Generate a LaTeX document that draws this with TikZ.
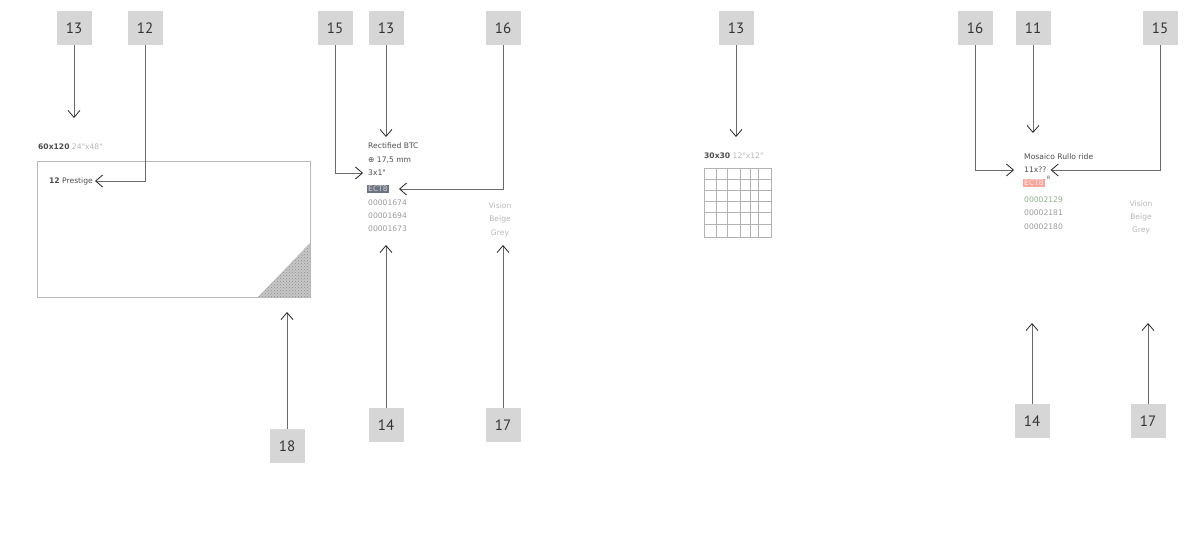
\documentclass[tikz,border=0pt]{standalone}
\usepackage{fontspec}
\setmainfont{PT Sans}
\newfontfamily\smallfont{DejaVu Sans}
\usetikzlibrary{arrows.meta,patterns}
\definecolor{lblfill}{HTML}{D6D6D6}
\definecolor{lbltext}{HTML}{333333}
\definecolor{conn}{HTML}{6A6A6A}
\definecolor{faint}{HTML}{9A9A9A}
\definecolor{pale}{HTML}{B8B8B8}
\definecolor{hlred}{HTML}{F4A89C}
\definecolor{hlgrey}{HTML}{6B7280}
\definecolor{codegreen}{HTML}{8FB08F}
\tikzset{
  lbl/.style={fill=lblfill,text=lbltext,minimum width=35pt,minimum height=34pt,inner sep=0pt,font=\fontsize{15}{15}\selectfont},
  conline/.style={draw=conn,line width=0.9pt,-{Straight Barb[length=7pt,width=12pt,line width=0.8pt,color=black!85]}},
  tiny/.style={anchor=west,inner sep=0pt,font=\smallfont\fontsize{7.6}{8}\selectfont,text=black!70},
  tinyfaint/.style={tiny,text=faint},
  tinypale/.style={inner sep=0pt,font=\smallfont\fontsize{7.6}{8}\selectfont,text=pale},
}
\begin{document}
\begin{tikzpicture}[x=1pt,y=-1pt]
\useasboundingbox (0,0) rectangle (1189,556);
% ---------- labels ----------
\node[lbl] (l13a) at (74,28) {13};
\node[lbl] (l12) at (145,28) {12};
\node[lbl] (l15a) at (335,28) {15};
\node[lbl] (l13b) at (386,28) {13};
\node[lbl] (l16a) at (503,28) {16};
\node[lbl] (l13c) at (736,28) {13};
\node[lbl] (l16b) at (975,28) {16};
\node[lbl] (l11) at (1033,28) {11};
\node[lbl] (l15b) at (1160,28) {15};
\node[lbl] (l18) at (287,446) {18};
\node[lbl] (l14a) at (386,425) {14};
\node[lbl] (l17a) at (503,425) {17};
\node[lbl] (l14b) at (1032,421) {14};
\node[lbl] (l17b) at (1148,421) {17};
% ---------- left panel ----------
\node[tiny] (t60) at (38,147) {\textbf{60x120} \textcolor{pale}{24"x48"}};
\draw[draw=pale,line width=0.9pt] (37,161) rectangle (310,297);
\fill[black!22] (258,297) -- (310,297) -- (310,243) -- cycle;
\fill[pattern=crosshatch dots,pattern color=black!45] (258,297) -- (310,297) -- (310,243) -- cycle;
\node[tiny] (t12) at (49,181) {\textbf{12} Prestige};
\coordinate (c13a) at (74,118);
\coordinate (c18) at (287,312);
% ---------- middle-left column ----------
\node[tiny] (r1) at (368,146) {Rectified BTC};
\node[tiny] (r2) at (368,160) {⊕ 17,5 mm};
\node[tiny] (r3) at (368,173) {3x1"};
\node[tiny,fill=hlgrey,text=white!85!black,inner sep=1pt] (r4) at (367,189) {ECT8};
\node[tinyfaint] (r5) at (368,203) {00001674};
\node[tinyfaint] (r6) at (368,216) {00001694};
\node[tinyfaint] (r7) at (368,229) {00001673};
\node[tinypale] (v1) at (500,206) {Vision};
\node[tinypale] (v2) at (500,219) {Beige};
\node[tinypale] (v3) at (500,233) {Grey};
\coordinate (c13b) at (386,137);
\coordinate (c14a) at (386,245);
\coordinate (c17a) at (503,245);
% ---------- middle grid ----------
\node[tiny] (t30) at (704,156) {\textbf{30x30} \textcolor{pale}{12"x12"}};
\draw[draw=black!30,line width=0.6pt] (704,168) rectangle (771,237);
\foreach \x in {716,727,740,750,758} \draw[draw=black!30,line width=0.6pt] (\x,168) -- (\x,237);
\foreach \y in {179,190,201,212,224} \draw[draw=black!30,line width=0.6pt] (704,\y) -- (771,\y);
\coordinate (c13c) at (736,137);
% ---------- right column ----------
\node[tiny] (m1) at (1024,157) {Mosaico Rullo ride};
\node[tiny] (m2) at (1024,170) {11x??};
\node[tiny,fill=hlred,text=white!90!red,inner sep=1pt] (m3) at (1023,183) {ECT8};
\node[tiny,anchor=west,font=\smallfont\fontsize{4.5}{5}\selectfont] (m3s) at ([xshift=2pt,yshift=1pt]m3.north east) {R};
\node[tinyfaint,text=codegreen] (m4) at (1024,200) {00002129};
\node[tinyfaint] (m5) at (1024,213) {00002181};
\node[tinyfaint] (m6) at (1024,227) {00002180};
\node[tinypale] (w1) at (1141,204) {Vision};
\node[tinypale] (w2) at (1141,217) {Beige};
\node[tinypale] (w3) at (1141,230) {Grey};
\coordinate (c11) at (1033,133);
\coordinate (c14b) at (1032,323);
\coordinate (c17b) at (1148,323);
% ---------- connectors ----------
\draw[conline] (l13a.south) -- (c13a);
\draw[conline] (l12.south) |- ([xshift=2pt]t12.east);
\draw[conline] (l18.north) -- (c18);
\draw[conline] (l15a.south) |- ([xshift=-5pt]r3.west);
\draw[conline] (l13b.south) -- (c13b);
\draw[conline] (l16a.south) |- ([xshift=10pt]r4.east);
\draw[conline] (l14a.north) -- (c14a);
\draw[conline] (l17a.north) -- (c17a);
\draw[conline] (l13c.south) -- (c13c);
\draw[conline] (l16b.south) |- ([xshift=-10pt]m2.west);
\draw[conline] (l11.south) -- (c11);
\draw[conline] (l15b.south) |- ([xshift=4pt]m2.east);
\draw[conline] (l14b.north) -- (c14b);
\draw[conline] (l17b.north) -- (c17b);
\end{tikzpicture}
\end{document}
